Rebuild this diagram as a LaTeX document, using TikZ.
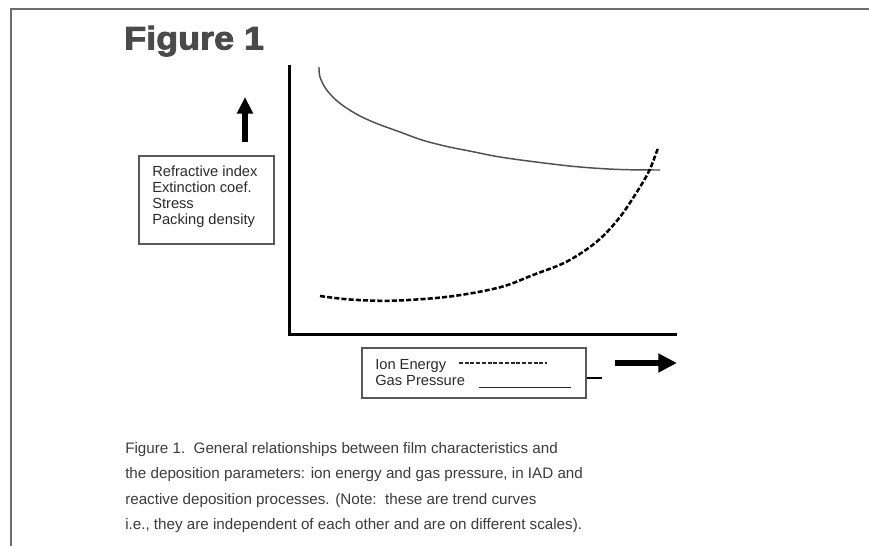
\documentclass[tikz,border=0pt]{standalone}
\usepackage{fontspec}
\setmainfont{Liberation Sans}
\newfontfamily\titlefont{Liberation Sans}[FakeStretch=1.1,FakeBold=2.6]
\usetikzlibrary{arrows.meta}
\definecolor{framegray}{HTML}{6E6E6E}
\definecolor{titlegray}{HTML}{4A4A4A}
\definecolor{textgray}{HTML}{2A2A2A}
\definecolor{capgray}{HTML}{3C3C3C}
\definecolor{curvegray}{HTML}{505050}
\tikzset{
  boxframe/.style={draw=black!65, line width=0.8pt, inner sep=0pt},
  boxtext/.style={anchor=base west, inner sep=0pt, text=textgray, font=\fontsize{11}{12}\selectfont},
  captext/.style={anchor=base west, inner sep=0pt, text=capgray, font=\fontsize{11.4}{13}\selectfont},
  axisline/.style={line width=2.25pt, line join=miter},
}
\begin{document}
\begin{tikzpicture}[x=0.75pt,y=-0.75pt]
\useasboundingbox[fill=white] (0,0) rectangle (869,546);
% page frame
\draw[framegray, line width=1.5pt] (11,546) -- (11,9) -- (869,9);
% title
\node[anchor=base west, inner sep=0pt, text=titlegray, font=\titlefont\bfseries\fontsize{24.5}{26}\selectfont] (title) at (124,49.5) {Figure 1};
% axes
\coordinate (ytop) at (289,65);
\coordinate (origin) at (289,334);
\coordinate (xend) at (677,334);
\draw[axisline] (ytop) -- (origin) -- (xend);
% solid curve (gas pressure)
\draw[curvegray, line width=1.1pt, line join=round] plot[smooth, tension=0.6] coordinates {
 (319,67) (320,77) (326,89) (336,100) (348,109) (362,117) (378,124) (400,132) (422,140) (447,146.5) (472,151.5) (500,157) (540,162.5) (580,167) (620,169.5) (660,170)};
% dashed curve (ion energy)
\draw[black, line width=1.9pt, dash pattern=on 3.8pt off 1.6pt] plot[smooth, tension=0.55] coordinates {
 (320,296) (350,299.5) (393,300.7) (450,296.5) (500,287.3) (533,275) (567,261.5) (597,241.5) (620,217) (640,187) (650,169) (658,148)};
% property box
\node[boxframe, minimum width=101.25pt, minimum height=66pt] (props) at (206.5,200) {};
\node[boxtext] (p1) at (152,176.5) {Refractive index};
\node[boxtext] (p2) at (152,192.5) {Extinction coef.};
\node[boxtext] (p3) at (152,208.5) {Stress};
\node[boxtext] (p4) at (152,224.5) {Packing density};
% up arrow
\coordinate (upbase) at (245,142);
\coordinate (uptip) at (245,97);
\draw[line width=5.2pt, -{Triangle[width=11.5pt,length=12.5pt]}] (upbase) -- (uptip);
% legend box
\node[boxframe, minimum width=168pt, minimum height=37.5pt] (legend) at (474,373) {};
\node[boxtext] (l1) at (375,369) {Ion Energy};
\node[boxtext] (l2) at (375,385) {Gas Pressure};
\coordinate (dashA) at (459,363);
\coordinate (dashB) at (547,363);
\draw[textgray, line width=0.8pt, dash pattern=on 3pt off 1.3pt] (dashA) -- (dashB);
\coordinate (solA) at (479,387.5);
\coordinate (solB) at (571,387.5);
\draw[textgray, line width=0.9pt] (solA) -- (solB);
\coordinate (tickend) at (602,378);
\draw[line width=2.2pt] (legend.east |- tickend) -- (tickend);
% right arrow
\coordinate (rbase) at (615,363);
\coordinate (rtip) at (677,363);
\draw[line width=4.6pt, -{Triangle[width=13.5pt,length=14pt]}] (rbase) -- (rtip);
% caption
\node[captext] (c1) at (125,453.3) {Figure 1.\ \ General relationships between film characteristics and};
\node[captext] (c2) at (125,478.8) {the deposition parameters: ion energy and gas pressure, in IAD and};
\node[captext] (c3) at (125,504.3) {reactive deposition processes. (Note:\ \ these are trend curves};
\node[captext] (c4) at (125,529.8) {i.e., they are independent of each other and are on different scales).};
\end{tikzpicture}
\end{document}
